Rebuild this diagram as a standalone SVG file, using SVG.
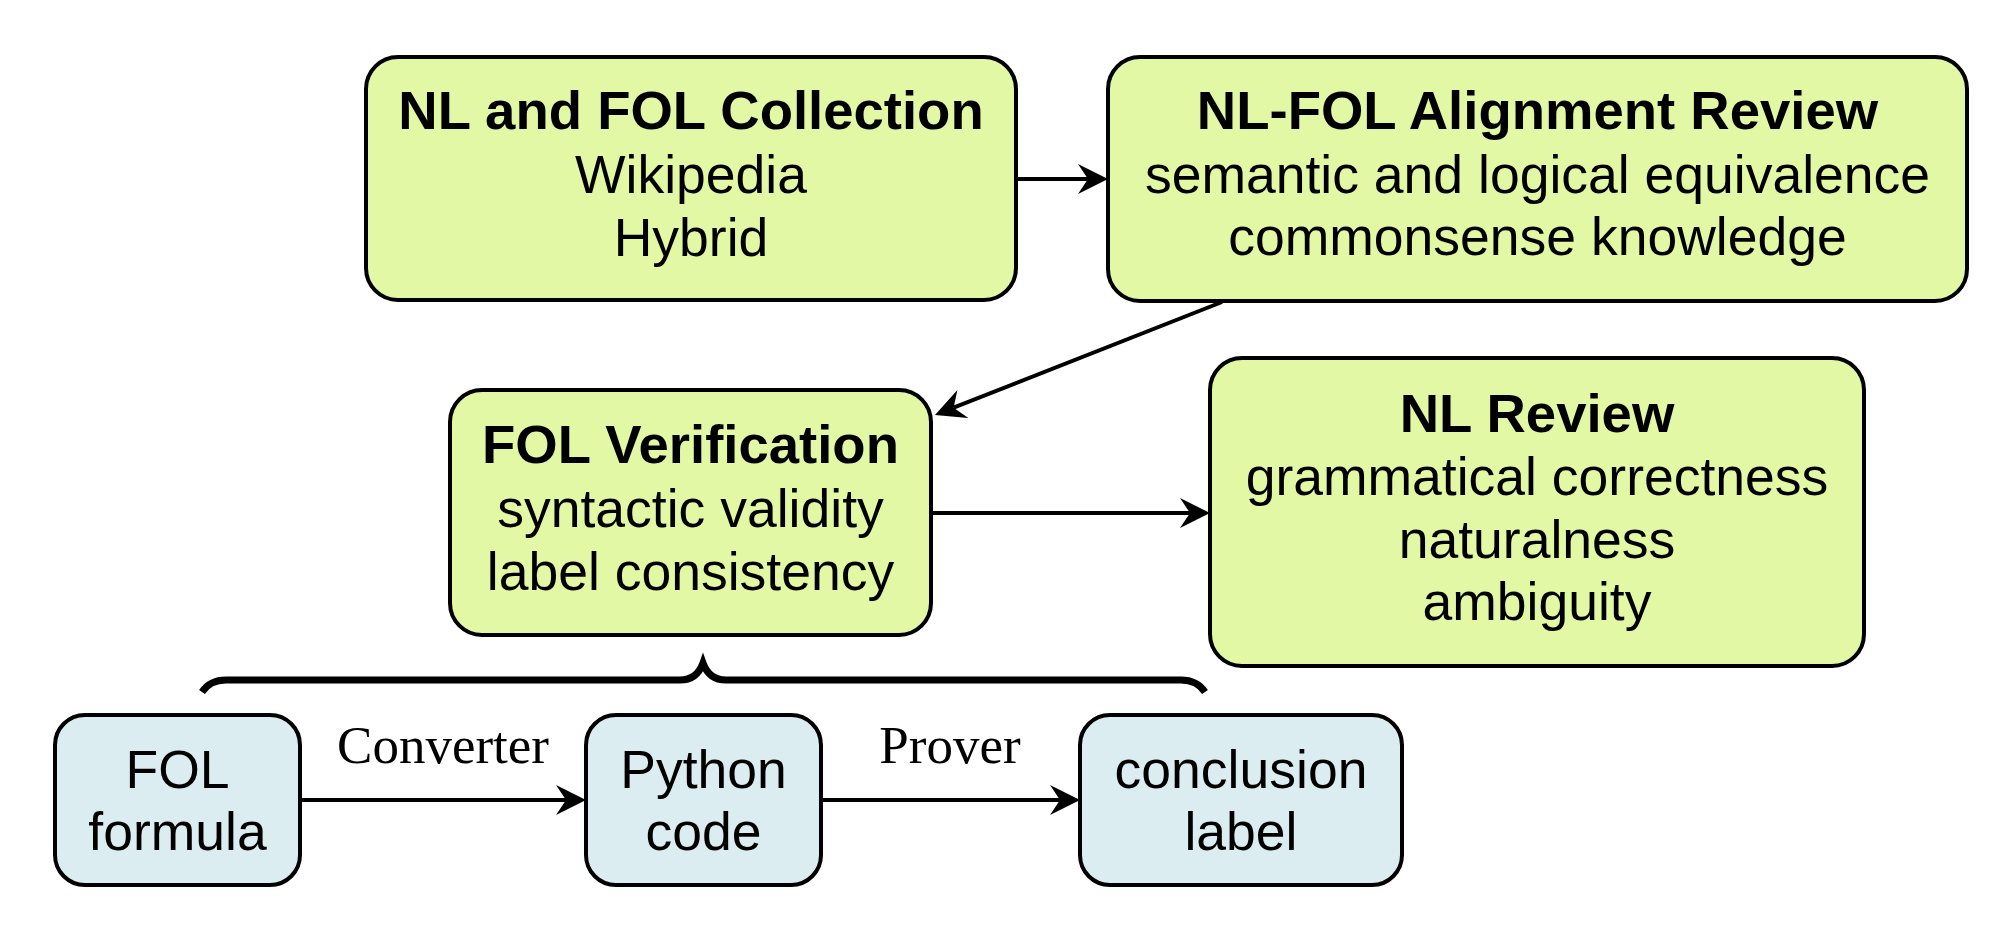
<svg xmlns="http://www.w3.org/2000/svg" width="2016" height="932" viewBox="0 0 2016 932">
<style>
.g{fill:#e2f8a5;stroke:#000;stroke-width:4}
.b{fill:#dcedf1;stroke:#000;stroke-width:4}
.t{font-family:"Liberation Sans",Arial,sans-serif;font-size:53.5px;text-anchor:middle;fill:#000}
.h{font-weight:bold;font-size:54.5px}
.l{font-family:"Liberation Serif","Times New Roman",serif;font-size:53px;text-anchor:middle;fill:#000}
.c{stroke:#000;stroke-width:4;fill:none}
</style>
<defs>
<marker id="arr" markerUnits="userSpaceOnUse" viewBox="0 0 30 30" markerWidth="30" markerHeight="30" refX="10" refY="15" orient="auto">
<path d="M0,0 L30,15 L0,30 L10,15 Z" fill="#000"/>
</marker>
</defs>
<rect width="2016" height="932" fill="#fff"/>
<g id="connectors">
<line class="c" x1="1016" y1="179" x2="1088" y2="179" marker-end="url(#arr)"/>
<line class="c" x1="1222" y1="302" x2="953.6" y2="407.7" marker-end="url(#arr)"/>
<line class="c" x1="931" y1="513" x2="1190" y2="513" marker-end="url(#arr)"/>
<line class="c" x1="300" y1="800" x2="566" y2="800" marker-end="url(#arr)"/>
<line class="c" x1="821" y1="800" x2="1060" y2="800" marker-end="url(#arr)"/>
<path d="M202,692 Q210,680 226,680 L680,680 Q697,680 703,663 Q709,680 726,680 L1181,680 Q1197,680 1205,692" stroke="#000" stroke-width="7" fill="none"/>
<text class="l" x="443" y="763">Converter</text>
<text class="l" x="950" y="763">Prover</text>
</g>
<g id="collection">
<rect class="g" x="366" y="57" width="650" height="243" rx="32"/>
<text class="t h" x="691" y="129">NL and FOL Collection</text>
<text class="t" x="691" y="193">Wikipedia</text>
<text class="t" x="691" y="256">Hybrid</text>
</g>
<g id="alignment">
<rect class="g" x="1108" y="57" width="859" height="244" rx="32"/>
<text class="t h" x="1537.5" y="129">NL-FOL Alignment Review</text>
<text class="t" x="1537.5" y="193">semantic and logical equivalence</text>
<text class="t" x="1537.5" y="255">commonsense knowledge</text>
</g>
<g id="folverification">
<rect class="g" x="450" y="390" width="481" height="245" rx="32"/>
<text class="t h" x="690.5" y="463">FOL Verification</text>
<text class="t" x="690.5" y="527">syntactic validity</text>
<text class="t" x="690.5" y="590">label consistency</text>
</g>
<g id="nlreview">
<rect class="g" x="1210" y="358" width="654" height="308" rx="32"/>
<text class="t h" x="1537" y="432">NL Review</text>
<text class="t" x="1537" y="495">grammatical correctness</text>
<text class="t" x="1537" y="558">naturalness</text>
<text class="t" x="1537" y="620">ambiguity</text>
</g>
<g id="folformula">
<rect class="b" x="55" y="715" width="245" height="170" rx="30"/>
<text class="t" x="177.5" y="788">FOL</text>
<text class="t" x="177.5" y="850">formula</text>
</g>
<g id="pythoncode">
<rect class="b" x="586" y="715" width="235" height="170" rx="30"/>
<text class="t" x="703.5" y="788">Python</text>
<text class="t" x="703.5" y="850">code</text>
</g>
<g id="conclusionlabel">
<rect class="b" x="1080" y="715" width="322" height="170" rx="30"/>
<text class="t" x="1241" y="788">conclusion</text>
<text class="t" x="1241" y="850">label</text>
</g>
</svg>
